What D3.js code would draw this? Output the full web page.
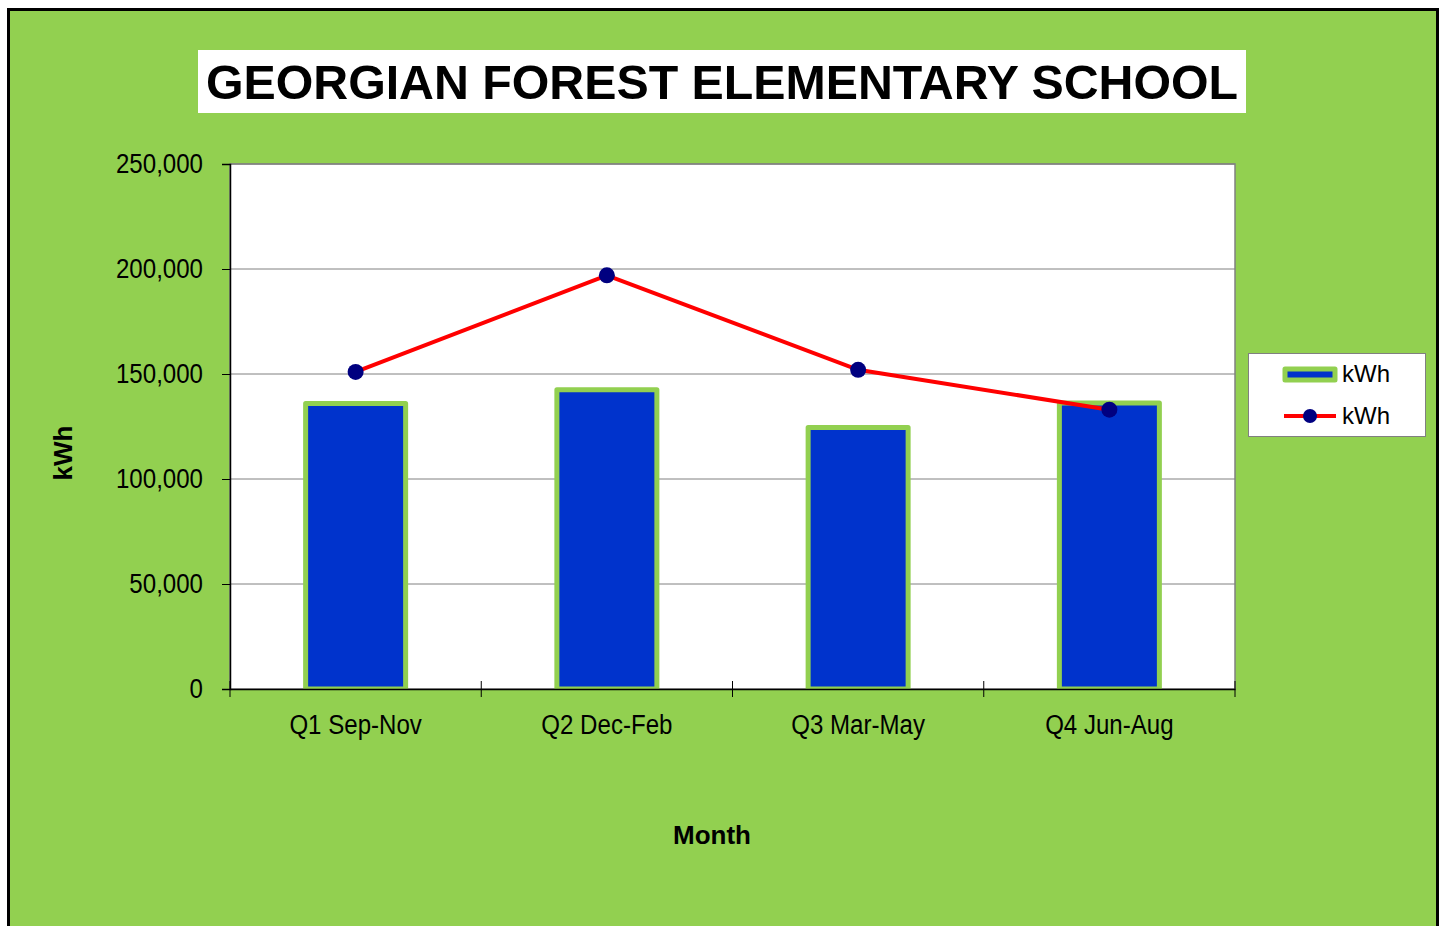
<!DOCTYPE html>
<html>
<head>
<meta charset="utf-8">
<script src="https://cdn.jsdelivr.net/npm/d3@7"></script>
<style>
  body { margin:0; background:#fff; }
  .tick text { font-family:"Liberation Sans Narrow","Arial Narrow","Liberation Sans",sans-serif; }
</style>
</head>
<body>
<div id="chart"></div>
<script>
// data
var quarters = ["Q1 Sep-Nov", "Q2 Dec-Feb", "Q3 Mar-May", "Q4 Jun-Aug"];
var barKwh = [136000, 142500, 124500, 136200];
var lineKwh = [151000, 197000, 152000, 133000];
var yTicks = [0, 50000, 100000, 150000, 200000, 250000];

var W = 1444, H = 926;
var green = "#92D050";
var narrow = 0.86; // no narrow font installed, squeeze the tick labels instead
var svg = d3.select("#chart").append("svg").attr("width", W).attr("height", H);

// background + frame
svg.append("rect").attr("x",0).attr("y",0).attr("width",W).attr("height",H).attr("fill","#fff");
svg.append("rect").attr("x",8.5).attr("y",9.5).attr("width",1429).attr("height",H+20)
  .attr("fill",green).attr("stroke","#000").attr("stroke-width",3);

// title
svg.append("rect").attr("x",198).attr("y",50).attr("width",1048).attr("height",63).attr("fill","#fff");
svg.append("text").attr("x",722).attr("y",99).attr("text-anchor","middle")
  .style("font-family","'Liberation Sans',Arial,sans-serif").style("font-weight","bold")
  .style("font-size","48.3px").text("GEORGIAN FOREST ELEMENTARY SCHOOL");

var m = {left:230, top:164, right:1235, bottom:689};
var x = d3.scaleBand().domain(quarters).range([m.left, m.right]).paddingInner(0).paddingOuter(0);
var y = d3.scaleLinear().domain([0, 250000]).range([m.bottom, m.top]);

// plot area
svg.append("rect").attr("x",m.left).attr("y",m.top).attr("width",m.right-m.left).attr("height",m.bottom-m.top)
  .attr("fill","#fff").attr("stroke","#808080").attr("stroke-width",1.5);

// gridlines
svg.append("g").selectAll("line").data(yTicks.slice(1)).join("line")
  .attr("x1",m.left).attr("x2",m.right).attr("y1",d=>y(d)).attr("y2",d=>y(d))
  .attr("stroke","#808080").attr("stroke-width",1);

// y axis
var yAxis = svg.append("g").attr("transform","translate("+m.left+",0)")
  .call(d3.axisLeft(y).tickValues(yTicks).tickFormat(d3.format(",")).tickSize(8).tickPadding(19));
yAxis.select(".domain").attr("stroke","#000").attr("stroke-width",1.5);
yAxis.selectAll(".tick line").attr("stroke","#000");
yAxis.selectAll(".tick text").style("font-size","28px").attr("fill","#000")
  .attr("x",0).attr("transform","translate(-27,0) scale("+narrow+",1)");

// bars
var bw = 100;
svg.append("g").selectAll("rect").data(quarters).join("rect")
  .attr("x",(d)=>x(d)+x.bandwidth()/2-bw/2)
  .attr("y",(d,i)=>y(barKwh[i]))
  .attr("width",bw)
  .attr("height",(d,i)=>y(0)-y(barKwh[i]))
  .attr("fill","#0033CC").attr("stroke",green).attr("stroke-width",5).attr("stroke-linejoin","round");

// x axis
var xAxis = svg.append("g").attr("transform","translate(0,"+m.bottom+")")
  .call(d3.axisBottom(x).tickSize(0).tickPadding(25));
xAxis.select(".domain").attr("stroke","#000").attr("stroke-width",1.5);
xAxis.selectAll(".tick text").style("font-size","28px").attr("fill","#000")
  .attr("transform","scale("+narrow+",1)");
svg.append("g").selectAll("line").data(quarters.concat(["end"])).join("line")
  .attr("x1",(d,i)=>i<quarters.length? x(d): m.right)
  .attr("x2",(d,i)=>i<quarters.length? x(d): m.right)
  .attr("y1",m.bottom-8).attr("y2",m.bottom+8).attr("stroke","#000").attr("stroke-width",1);

// line
var line = d3.line().x((d,i)=>x(quarters[i])+x.bandwidth()/2).y(d=>y(d));
svg.append("path").datum(lineKwh).attr("d",line).attr("fill","none")
  .attr("stroke","#FF0000").attr("stroke-width",4);
svg.append("g").selectAll("circle").data(lineKwh).join("circle")
  .attr("cx",(d,i)=>x(quarters[i])+x.bandwidth()/2).attr("cy",d=>y(d)).attr("r",8)
  .attr("fill","#000080");

// axis titles
svg.append("text").attr("transform","translate(72,453) rotate(-90)").attr("text-anchor","middle")
  .style("font-family","'Liberation Sans',Arial,sans-serif").style("font-weight","bold").style("font-size","26px")
  .text("kWh");
svg.append("text").attr("x",712).attr("y",844).attr("text-anchor","middle")
  .style("font-family","'Liberation Sans',Arial,sans-serif").style("font-weight","bold").style("font-size","26px")
  .text("Month");

// legend
var lg = svg.append("g").attr("transform","translate(1248,353)");
lg.append("rect").attr("x",0.5).attr("y",0.5).attr("width",177).attr("height",83)
  .attr("fill","#fff").attr("stroke","#808080").attr("stroke-width",1);
lg.append("rect").attr("x",37).attr("y",16).attr("width",50).attr("height",11)
  .attr("fill","#0033CC").attr("stroke",green).attr("stroke-width",5).attr("stroke-linejoin","round");
lg.append("line").attr("x1",36).attr("x2",88).attr("y1",63).attr("y2",63)
  .attr("stroke","#FF0000").attr("stroke-width",4);
lg.append("circle").attr("cx",62).attr("cy",63).attr("r",7).attr("fill","#000080");
lg.selectAll("text.lab").data(["kWh","kWh"]).join("text").attr("class","lab")
  .attr("x",94).attr("y",(d,i)=>29+i*42)
  .style("font-family","'Liberation Sans',Arial,sans-serif").style("font-size","24px")
  .text(d=>d);
</script>
</body>
</html>
